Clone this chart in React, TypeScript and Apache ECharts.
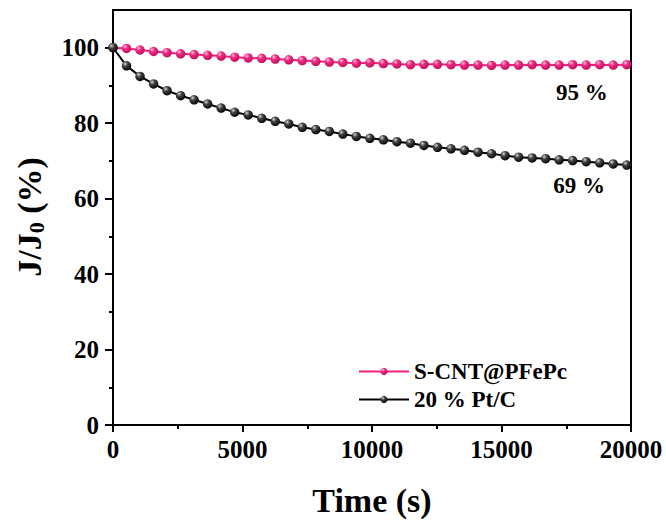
import React, { useEffect, useRef } from "react";
import * as echarts from "echarts";

const time = [0, 522, 1044, 1566, 2088, 2610, 3132, 3654, 4176, 4698, 5220, 5742, 6264, 6786, 7308, 7830, 8352, 8874, 9396, 9918, 10440, 10962, 11484, 12006, 12528, 13050, 13572, 14094, 14616, 15138, 15660, 16182, 16704, 17226, 17748, 18270, 18792, 19314, 19836, 20000];
const pinkValues = [100, 99.8, 99.4, 99.0, 98.7, 98.4, 98.2, 98.0, 97.8, 97.5, 97.3, 97.2, 97.0, 96.8, 96.6, 96.4, 96.2, 96.1, 95.9, 96.0, 95.8, 95.7, 95.5, 95.6, 95.6, 95.5, 95.4, 95.4, 95.3, 95.4, 95.4, 95.5, 95.4, 95.4, 95.5, 95.4, 95.5, 95.4, 95.5, 95.5];
const blackValues = [100, 95.2, 92.4, 90.4, 88.6, 87.3, 86.2, 85.1, 84.0, 82.9, 82.2, 81.3, 80.5, 79.8, 78.9, 78.3, 77.8, 77.1, 76.5, 76.0, 75.6, 75.1, 74.7, 74.1, 73.6, 73.2, 72.8, 72.3, 71.9, 71.4, 71.0, 70.8, 70.6, 70.3, 70.1, 69.8, 69.5, 69.2, 68.9, 68.8];
const seriesNames = ["S-CNT@PFePc", "20 % Pt/C"];
const yTicks = [0, 20, 40, 60, 80, 100];
const yMinorTicks = [10, 30, 50, 70, 90];
const annotations = [
  { text: "95 %", x: 18100, y: 88.2 },
  { text: "69 %", x: 18000, y: 63.5 },
];

const FONT = "'Times New Roman', 'Liberation Serif', serif";
const PINK = "#EF1F7A";

function buildData(values: number[]) {
  return time.map((t, i) =>
    i === time.length - 1 ? { value: [t, values[i]], symbol: "none" } : [t, values[i]]
  );
}

function annotationPoint(a: { text: string; x: number; y: number }) {
  return {
    symbol: "circle",
    symbolSize: 0,
    data: [
      {
        coord: [a.x, a.y],
        label: {
          show: true,
          formatter: a.text,
          fontFamily: FONT,
          fontWeight: "bold",
          fontSize: 23,
          color: "#000",
          position: "inside",
        },
      },
    ],
  };
}

export default function App() {
  const ref = useRef<HTMLDivElement>(null);
  useEffect(() => {
    if (!ref.current) return;
    const chart = echarts.init(ref.current, undefined, { renderer: "svg" });
    const pinkGrad = new echarts.graphic.RadialGradient(0.35, 0.3, 0.75, [
      { offset: 0, color: "#ffd0e4" },
      { offset: 0.35, color: "#f22a82" },
      { offset: 1, color: "#b8105c" },
    ]);
    const blackGrad = new echarts.graphic.RadialGradient(0.35, 0.3, 0.75, [
      { offset: 0, color: "#d8d8d8" },
      { offset: 0.35, color: "#444444" },
      { offset: 1, color: "#000000" },
    ]);
    chart.setOption({
      animation: false,
      backgroundColor: "#fff",
      grid: { left: 113, right: 35, top: 10, bottom: 98, show: true, borderColor: "#000", borderWidth: 2 },
      legend: {
        orient: "vertical",
        left: 353,
        top: 355,
        itemWidth: 50,
        itemHeight: 9,
        itemGap: 5,
        textStyle: { fontFamily: FONT, fontWeight: "bold", fontSize: 23, color: "#000", lineHeight: 22 },
        data: seriesNames,
      },
      xAxis: {
        type: "value",
        min: 0,
        max: 20000,
        interval: 5000,
        axisLine: { lineStyle: { color: "#000", width: 2 } },
        axisTick: { show: true, length: 7, lineStyle: { color: "#000", width: 2 } },
        minorTick: { show: true, splitNumber: 2, length: 4, lineStyle: { color: "#000", width: 2 } },
        splitLine: { show: false },
        axisLabel: {
          fontFamily: FONT,
          fontWeight: "bold",
          fontSize: 25,
          color: "#000",
          margin: 12,
          formatter: (v: number) => String(v),
        },
      },
      yAxis: [
        {
          type: "value",
          min: 0,
          max: 110,
          interval: 20,
          axisLine: { show: true, lineStyle: { color: "#000", width: 2 } },
          axisTick: { show: true, length: 8, customValues: yTicks, lineStyle: { color: "#000", width: 2 } },
          splitLine: { show: false },
          axisLabel: {
            fontFamily: FONT,
            fontWeight: "bold",
            fontSize: 25,
            color: "#000",
            margin: 14,
            customValues: yTicks,
            formatter: (v: number) => (v > 100 ? "" : String(v)),
          },
        },
        {
          type: "value",
          position: "left",
          min: 0,
          max: 110,
          axisLine: { show: false },
          axisTick: { show: true, length: 4, customValues: yMinorTicks, lineStyle: { color: "#000", width: 2 } },
          axisLabel: { show: false, customValues: yMinorTicks },
          splitLine: { show: false },
        },
      ],
      graphic: [
        {
          type: "text",
          x: 29,
          y: 217,
          rotation: Math.PI / 2,
          style: {
            text: "{a|J/J}{b|0}{a| (%)}",
            align: "center",
            verticalAlign: "middle",
            rich: {
              a: { fontFamily: FONT, fontWeight: "bold", fontSize: 34, fill: "#000" },
              b: { fontFamily: FONT, fontWeight: "bold", fontSize: 22, fill: "#000", padding: [14, 0, 0, 0] },
            },
          },
        },
        {
          type: "text",
          x: 372,
          y: 500,
          style: {
            text: "Time (s)",
            align: "center",
            verticalAlign: "middle",
            fontFamily: FONT,
            fontWeight: "bold",
            fontSize: 34,
            fill: "#000",
          },
        },
      ],
      series: [
        {
          name: seriesNames[0],
          type: "line",
          data: buildData(pinkValues),
          symbol: "circle",
          symbolSize: 9.5,
          showAllSymbol: true,
          itemStyle: { color: pinkGrad },
          lineStyle: { color: PINK, width: 2 },
          markPoint: annotationPoint(annotations[0]),
        },
        {
          name: seriesNames[1],
          type: "line",
          data: buildData(blackValues),
          symbol: "circle",
          symbolSize: 9.5,
          showAllSymbol: true,
          itemStyle: { color: blackGrad },
          lineStyle: { color: "#000", width: 2 },
          markPoint: annotationPoint(annotations[1]),
        },
      ],
    });
    return () => chart.dispose();
  }, []);
  return (
    <div
      ref={ref}
      style={{ position: "absolute", left: 0, top: 0, width: 666, height: 523 }}
    />
  );
}
